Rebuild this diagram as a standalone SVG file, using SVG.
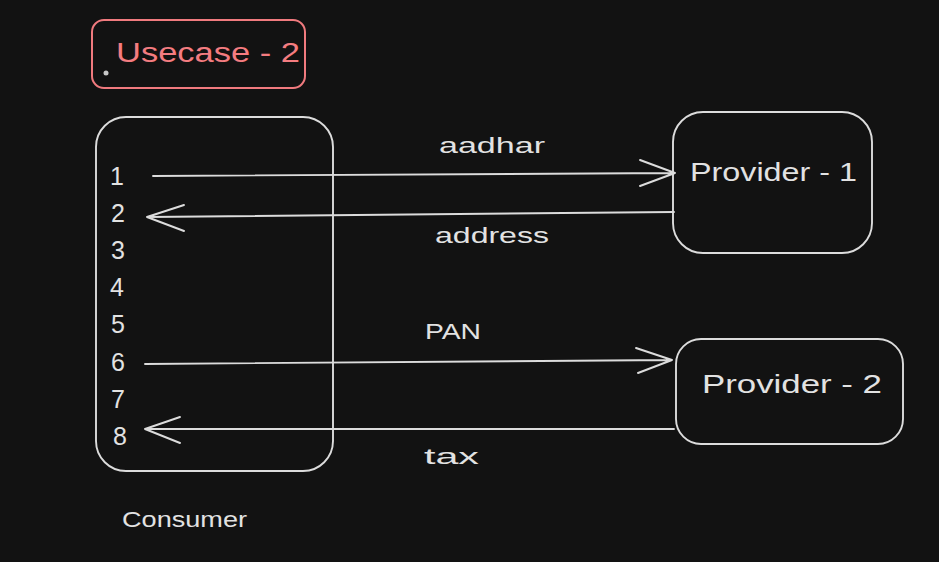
<svg xmlns="http://www.w3.org/2000/svg" width="939" height="562" viewBox="0 0 939 562">
  <style>
    .box { fill: none; stroke: #dcdcdc; stroke-width: 1.9; }
    .red { fill: none; stroke: #f07a7e; stroke-width: 2; }
    .t { font-family: "Liberation Sans", "DejaVu Sans", sans-serif; fill: #e2e2e2; }
    .rt { font-family: "Liberation Sans", "DejaVu Sans", sans-serif; fill: #f47c80; }
    .n { font-family: "Liberation Sans", "DejaVu Sans", sans-serif; fill: #e2e2e2; font-size: 25px; }
    .ln { fill: none; stroke: #dcdcdc; stroke-width: 1.9; stroke-linecap: round; stroke-linejoin: round; }
  </style>
  <rect width="939" height="562" fill="#121212"/>

  <g id="usecase">
    <rect class="red" x="92" y="20" width="213" height="68" rx="12"/>
    <text class="rt" x="116" y="62" font-size="27" textLength="184" lengthAdjust="spacingAndGlyphs">Usecase - 2</text>
    <circle cx="106" cy="73" r="2.5" fill="#c8c8c8"/>
  </g>

  <g id="consumer">
    <rect class="box" x="96" y="117" width="237" height="354" rx="30"/>
    <text class="n" x="110" y="185">1</text>
    <text class="n" x="111" y="222">2</text>
    <text class="n" x="111" y="259">3</text>
    <text class="n" x="110" y="296">4</text>
    <text class="n" x="111" y="333">5</text>
    <text class="n" x="111" y="371">6</text>
    <text class="n" x="111" y="408">7</text>
    <text class="n" x="113" y="445">8</text>
    <text class="t" x="122" y="527" font-size="22" textLength="125" lengthAdjust="spacingAndGlyphs">Consumer</text>
  </g>

  <g id="provider1">
    <rect class="box" x="673" y="112" width="199" height="141" rx="30"/>
    <text class="t" x="690" y="181" font-size="26" textLength="167" lengthAdjust="spacingAndGlyphs">Provider - 1</text>
  </g>

  <g id="provider2">
    <rect class="box" x="676" y="339" width="227" height="105" rx="25"/>
    <text class="t" x="702" y="393" font-size="26" textLength="180" lengthAdjust="spacingAndGlyphs">Provider - 2</text>
  </g>

  <g id="connectors">
    <path class="ln" d="M153 176 L675 173 M640 160 L675 173 L640 186"/>
    <path class="ln" d="M674 212 L147 217 M184 205 L147 217 L184 231"/>
    <path class="ln" d="M145 364 L672 360 M636 348 L672 360 L638 373"/>
    <path class="ln" d="M674 429 L145 429 M180 417 L145 429 L180 443"/>
    <text class="t" x="439" y="153" font-size="22" textLength="106" lengthAdjust="spacingAndGlyphs">aadhar</text>
    <text class="t" x="435" y="243" font-size="22" textLength="114" lengthAdjust="spacingAndGlyphs">address</text>
    <text class="t" x="425" y="339" font-size="22" textLength="56" lengthAdjust="spacingAndGlyphs">PAN</text>
    <text class="t" x="424" y="464" font-size="22" textLength="55" lengthAdjust="spacingAndGlyphs">tax</text>
  </g>
</svg>
